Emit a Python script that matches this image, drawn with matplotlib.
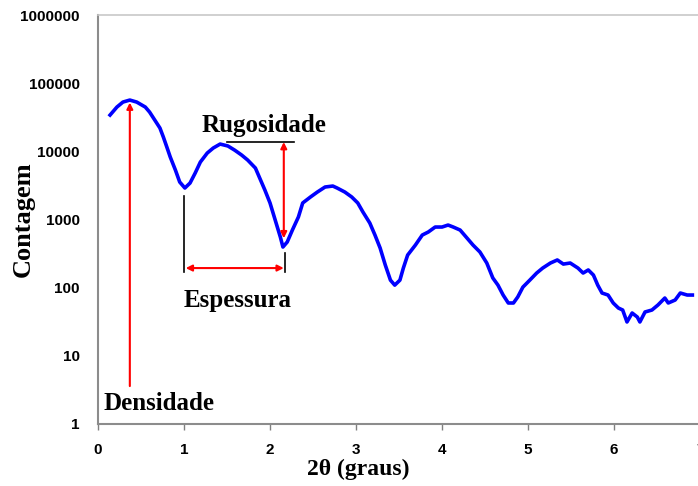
import numpy as np
import matplotlib
matplotlib.use('Agg')
import matplotlib.pyplot as plt
from matplotlib.ticker import FixedLocator, FixedFormatter

# reflectivity scan: angle (2theta, degrees) and counts
two_theta = [0.14, 0.22, 0.29, 0.37, 0.45, 0.55, 0.60, 0.66, 0.72, 0.76,
             0.80, 0.84, 0.90, 0.95, 1.01, 1.07, 1.13, 1.19, 1.27, 1.34,
             1.42, 1.51, 1.59, 1.67, 1.74, 1.83, 1.88, 1.94, 2.00, 2.06,
             2.12, 2.15, 2.20, 2.26, 2.33, 2.38, 2.47, 2.55, 2.64, 2.73,
             2.78, 2.87, 2.95, 3.02, 3.08, 3.16, 3.22, 3.28, 3.34, 3.40,
             3.45, 3.51, 3.55, 3.60, 3.69, 3.77, 3.84, 3.92, 4.00, 4.07,
             4.13, 4.21, 4.29, 4.36, 4.44, 4.52, 4.59, 4.65, 4.71, 4.77,
             4.83, 4.88, 4.94, 5.02, 5.10, 5.17, 5.26, 5.34, 5.41, 5.49,
             5.58, 5.64, 5.70, 5.76, 5.81, 5.86, 5.93, 5.99, 6.05, 6.10,
             6.15, 6.21, 6.27, 6.30, 6.36, 6.44, 6.51, 6.59, 6.63, 6.71,
             6.77, 6.85, 6.91]
counts = [34100, 44700, 52900, 56600, 52900, 44700, 37700, 28800, 22000, 16200,
          11600, 8260, 5320, 3550, 2900, 3430, 4810, 6970, 9450, 11200,
          12800, 12000, 10400, 8830, 7460, 5690, 4060, 2710, 1750, 984,
          553, 395, 468, 701, 1090, 1750, 2140, 2530, 3000, 3100,
          2900, 2530, 2140, 1750, 1290, 888, 592, 382, 215, 129,
          109, 129, 194, 301, 422, 592, 656, 776, 776, 830,
          776, 701, 535, 422, 334, 230, 139, 109, 78, 59.6,
          59.6, 73, 102, 129, 164, 194, 230, 255, 222, 230,
          194, 164, 182, 153, 109, 83.5, 78, 59.6, 50.3, 47,
          31.4, 42.5, 37.1, 31.4, 44, 47, 55.7, 70.5, 59.6, 65.9,
          83.5, 78, 78]

y_ticks = [1, 10, 100, 1000, 10000, 100000, 1000000]
y_tick_labels = ['1', '10', '100', '1000', '10000', '100000', '1000000']
x_ticks = [0, 1, 2, 3, 4, 5, 6, 7]

serif = 'Liberation Serif'
sans = 'Liberation Sans'

fig = plt.figure(figsize=(6.98, 4.86), dpi=100)
ax = fig.add_axes([0.1404, 0.1276, 0.8626, 0.8414])

ax.plot(two_theta, counts, color='#0000ff', lw=2.6, solid_joinstyle='round')

ax.set_yscale('log')
ax.set_ylim(1, 1000000)
ax.set_xlim(0, 7)
ax.yaxis.set_major_locator(FixedLocator(y_ticks))
ax.yaxis.set_major_formatter(FixedFormatter(y_tick_labels))
ax.yaxis.set_minor_locator(FixedLocator([]))
ax.set_xticks(x_ticks)
ax.set_xticklabels([str(t) for t in x_ticks])

for lab in ax.get_xticklabels() + ax.get_yticklabels():
    lab.set_fontfamily(sans)
    lab.set_fontweight('bold')
    lab.set_fontsize(11)
ax.tick_params(axis='y', length=0, pad=13)
ax.tick_params(axis='x', length=4, width=1, color='#808080', pad=10, direction='out')

for side in ['left', 'bottom']:
    ax.spines[side].set_color('#8c8c8c')
    ax.spines[side].set_linewidth(1.5)
for side in ['top', 'right']:
    ax.spines[side].set_color('#c8c8c8')
    ax.spines[side].set_linewidth(1.2)

ax.set_ylabel('Contagem', fontfamily=serif, fontweight='bold', fontsize=19)
ax.set_xlabel('2θ (graus)', fontfamily=serif, fontweight='bold', fontsize=17)
ax.xaxis.set_label_coords(0.432, -0.085)
ax.yaxis.set_label_coords(-0.105, 0.5)

red = dict(color='red', lw=1.5, mutation_scale=9, shrinkA=0, shrinkB=0)

# densidade: critical angle arrow
ax.annotate('', xy=(0.37, 52000), xytext=(0.37, 3.6),
            arrowprops=dict(arrowstyle='-|>', **red))
ax.text(0.06, 2.0, 'Densidade', fontfamily=serif, fontweight='bold',
        fontsize=18, ha='left', va='center')

# rugosidade: fringe amplitude
ax.plot([1.50, 2.28], [13700, 13700], color='black', lw=1.2)
ax.annotate('', xy=(2.16, 13700), xytext=(2.16, 530),
            arrowprops=dict(arrowstyle='<|-|>', **red))
ax.text(1.2, 24000, 'Rugosidade', fontfamily=serif, fontweight='bold',
        fontsize=18, ha='left', va='center')

# espessura: fringe period
ax.plot([1.0, 1.0], [2200, 170], color='black', lw=1.2)
ax.plot([2.17, 2.17], [320, 170], color='black', lw=1.2)
ax.annotate('', xy=(1.02, 194), xytext=(2.16, 194),
            arrowprops=dict(arrowstyle='<|-|>', **red))
ax.text(1.0, 64, 'Espessura', fontfamily=serif, fontweight='bold',
        fontsize=18, ha='left', va='center')

fig.savefig('out.png', dpi=100)
